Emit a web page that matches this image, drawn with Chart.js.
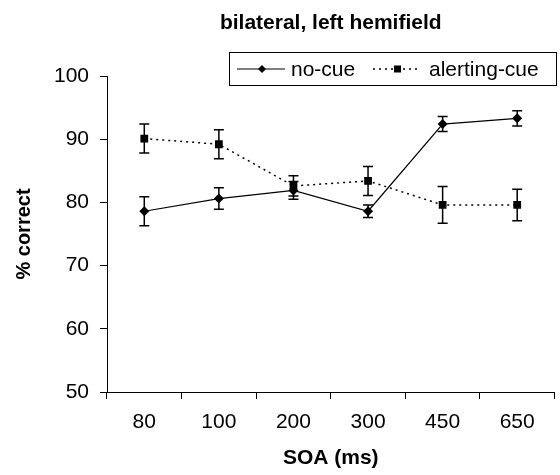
<!DOCTYPE html>
<html>
<head>
<meta charset="utf-8">
<script src="https://cdn.jsdelivr.net/npm/chart.js@4"></script>
<style>
  html, body { margin: 0; padding: 0; background: #fff; }
  #wrap { width: 560px; height: 475px; }
</style>
</head>
<body>
<div id="wrap"><canvas id="chart"></canvas></div>
<script>
const soaLabels = ['80', '100', '200', '300', '450', '650'];
const noCue = [78.6, 80.6, 81.9, 78.6, 92.4, 93.3];
const noCueErr = [2.3, 1.7, 1.4, 1.0, 1.2, 1.2];
const alertingCue = [90.1, 89.2, 82.6, 83.4, 79.6, 79.6];
const alertingErr = [2.3, 2.3, 1.6, 2.3, 2.9, 2.5];
const yTicks = [50, 60, 70, 80, 90, 100];
const chartTitle = 'bilateral, left hemifield';

const font = "'Liberation Sans', Arial, sans-serif";

// vertical error bars drawn through the chart's own scales
const errorBars = {
    id: 'errorBars',
    afterDatasetsDraw(chart) {
        const ctx = chart.ctx;
        const y = chart.scales.y;
        ctx.save();
        ctx.strokeStyle = '#000';
        ctx.lineWidth = 1.5;
        chart.data.datasets.forEach((ds, i) => {
            const meta = chart.getDatasetMeta(i);
            meta.data.forEach((pt, j) => {
                const v = ds.data[j];
                const e = ds.errors[j];
                const top = y.getPixelForValue(v + e);
                const bot = y.getPixelForValue(v - e);
                ctx.beginPath();
                ctx.moveTo(pt.x, top); ctx.lineTo(pt.x, bot);
                ctx.moveTo(pt.x - 5, top); ctx.lineTo(pt.x + 5, top);
                ctx.moveTo(pt.x - 5, bot); ctx.lineTo(pt.x + 5, bot);
                ctx.stroke();
            });
        });
        ctx.restore();
    }
};

// title centred over the plot area, as in the original
const plotTitle = {
    id: 'plotTitle',
    afterDraw(chart) {
        const ctx = chart.ctx;
        const a = chart.chartArea;
        ctx.save();
        ctx.fillStyle = '#000';
        ctx.font = 'bold 21px ' + font;
        ctx.textAlign = 'center';
        ctx.textBaseline = 'middle';
        ctx.fillText(chartTitle, (a.left + a.right) / 2, 23);
        ctx.restore();
    }
};

// boxed legend, top right, like the original figure
const boxLegend = {
    id: 'boxLegend',
    afterDraw(chart) {
        const ctx = chart.ctx;
        const x0 = 229, y0 = 52, w = 327, h = 33;
        ctx.save();
        ctx.fillStyle = '#fff';
        ctx.fillRect(x0, y0, w, h);
        ctx.strokeStyle = '#000';
        ctx.lineWidth = 1;
        ctx.strokeRect(x0 + 0.5, y0 + 0.5, w, h);
        const cy = y0 + h / 2 + 0.5;
        ctx.lineWidth = 1.2;
        // no-cue sample
        ctx.beginPath(); ctx.moveTo(237, cy); ctx.lineTo(285, cy); ctx.stroke();
        ctx.fillStyle = '#000';
        ctx.beginPath();
        ctx.moveTo(262, cy - 4); ctx.lineTo(266, cy); ctx.lineTo(262, cy + 4); ctx.lineTo(258, cy);
        ctx.closePath(); ctx.fill();
        // alerting-cue sample
        ctx.lineWidth = 1.5;
        ctx.setLineDash([2, 4]);
        ctx.beginPath(); ctx.moveTo(373, cy); ctx.lineTo(420, cy); ctx.stroke();
        ctx.setLineDash([]);
        ctx.fillRect(394, cy - 3.5, 7, 7);
        ctx.font = '21px ' + font;
        ctx.textBaseline = 'middle';
        ctx.fillText('no-cue', 291, cy + 1);
        ctx.fillText('alerting-cue', 429, cy + 1);
        ctx.restore();
    }
};

new Chart(document.getElementById('chart'), {
    type: 'line',
    data: {
        labels: soaLabels,
        datasets: [
            { label: 'no-cue', data: noCue, errors: noCueErr, borderColor: '#000', backgroundColor: '#000', borderWidth: 1.2, pointStyle: 'rectRot', pointRadius: 5, pointBorderWidth: 0, tension: 0 },
            { label: 'alerting-cue', data: alertingCue, errors: alertingErr, borderColor: '#000', backgroundColor: '#000', borderWidth: 1.5, borderDash: [2, 4], pointStyle: 'rect', pointRadius: 5.5, pointBorderWidth: 0, tension: 0 }
        ]
    },
    options: {
        responsive: true,
        maintainAspectRatio: false,
        animation: false,
        layout: { padding: { left: 8, right: 3, top: 76, bottom: 0 } },
        plugins: {
            legend: { display: false },
            tooltip: { enabled: false },
            title: { display: false }
        },
        scales: {
            x: {
                offset: true,
                grid: { offset: true, drawOnChartArea: false, tickLength: 7, color: '#000', tickColor: '#000' },
                border: { color: '#000', width: 1 },
                ticks: { color: '#000', font: { family: font, size: 21 }, padding: 11 },
                title: { display: true, text: 'SOA (ms)', color: '#000', font: { family: font, size: 21, weight: 'bold' }, padding: { top: 2 } },
                afterFit(scale) { scale.height = 83; }
            },
            y: {
                min: 50,
                max: 100,
                afterBuildTicks(scale) { scale.ticks = yTicks.map(v => ({ value: v })); },
                grid: { drawOnChartArea: false, tickLength: 7, color: '#000', tickColor: '#000' },
                border: { color: '#000', width: 1 },
                ticks: { color: '#000', font: { family: font, size: 21 }, padding: 11 },
                title: { display: true, text: '% correct', color: '#000', font: { family: font, size: 20, weight: 'bold' }, padding: { bottom: 4 } },
                afterFit(scale) { scale.width = 99; }
            }
        }
    },
    plugins: [errorBars, plotTitle, boxLegend]
});
</script>
</body>
</html>
